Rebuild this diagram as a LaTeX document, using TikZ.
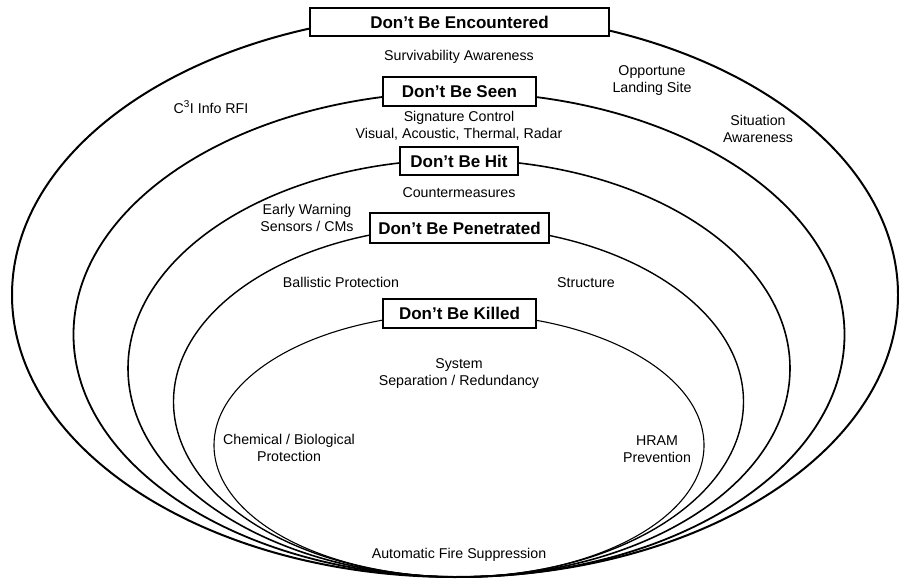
\documentclass[tikz,border=0pt]{standalone}
\usepackage{fontspec}
\setmainfont{Liberation Sans}
\begin{document}
\begin{tikzpicture}[x=1pt,y=-1pt,
  ring/.style={draw=black},
  stagebox/.style={draw=black, line width=2pt, fill=white, inner sep=0pt,
    font=\fontsize{17}{20}\selectfont\bfseries},
  lbl/.style={align=center, inner sep=0pt, font=\fontsize{14.2}{17}\selectfont}]
\useasboundingbox (0,0) rectangle (899,580);
% nested ellipses, all touching at the bottom
\draw[ring, line width=2pt]   (455,295)   ellipse [x radius=443pt,   y radius=282pt];
\draw[ring, line width=1.8pt] (459,334.6) ellipse [x radius=385.5pt, y radius=242.4pt];
\draw[ring, line width=1.6pt] (459,368.3) ellipse [x radius=331pt,   y radius=208.7pt];
\draw[ring, line width=1.4pt] (458.5,401.7) ellipse [x radius=285pt, y radius=175.3pt];
\draw[ring, line width=1.1pt] (459,445.3) ellipse [x radius=245pt,   y radius=131.7pt];
% stage boxes
\node[stagebox, minimum width=299pt, minimum height=28pt] (enc)  at (459.5,22)    {Don’t Be Encountered};
\node[stagebox, minimum width=153pt, minimum height=29pt] (seen) at (459.5,91.5)  {Don’t Be Seen};
\node[stagebox, minimum width=118pt, minimum height=28pt] (hit)  at (459,161)     {Don’t Be Hit};
\node[stagebox, minimum width=179pt, minimum height=30pt] (pen)  at (459.5,228)   {Don’t Be Penetrated};
\node[stagebox, minimum width=153pt, minimum height=29pt] (kill) at (459.5,313.5) {Don’t Be Killed};
% labels
\node[lbl] (surv) at (459,57)   {Survivability Awareness};
\node[lbl] (c3i)  at (211,107)  {C\textsuperscript{3}I Info RFI};
\node[lbl] (opp)  at (652,81)   {Opportune\\Landing Site};
\node[lbl] (sit)  at (758,129)  {Situation\\Awareness};
\node[lbl] (sig)  at (459,126)  {Signature Control\\Visual, Acoustic, Thermal, Radar};
\node[lbl] (cm)   at (459,193)  {Countermeasures};
\node[lbl] (ew)   at (307,218)  {Early Warning\\Sensors / CMs};
\node[lbl] (bal)  at (341,282)  {Ballistic Protection};
\node[lbl] (str)  at (586,283)  {Structure};
\node[lbl] (sys)  at (459,374)  {System\\Separation / Redundancy};
\node[lbl] (chem) at (289,448)  {Chemical / Biological\\Protection};
\node[lbl] (hram) at (657,449)  {HRAM\\Prevention};
\node[lbl] (afs)  at (459,555)  {Automatic Fire Suppression};
\end{tikzpicture}
\end{document}
